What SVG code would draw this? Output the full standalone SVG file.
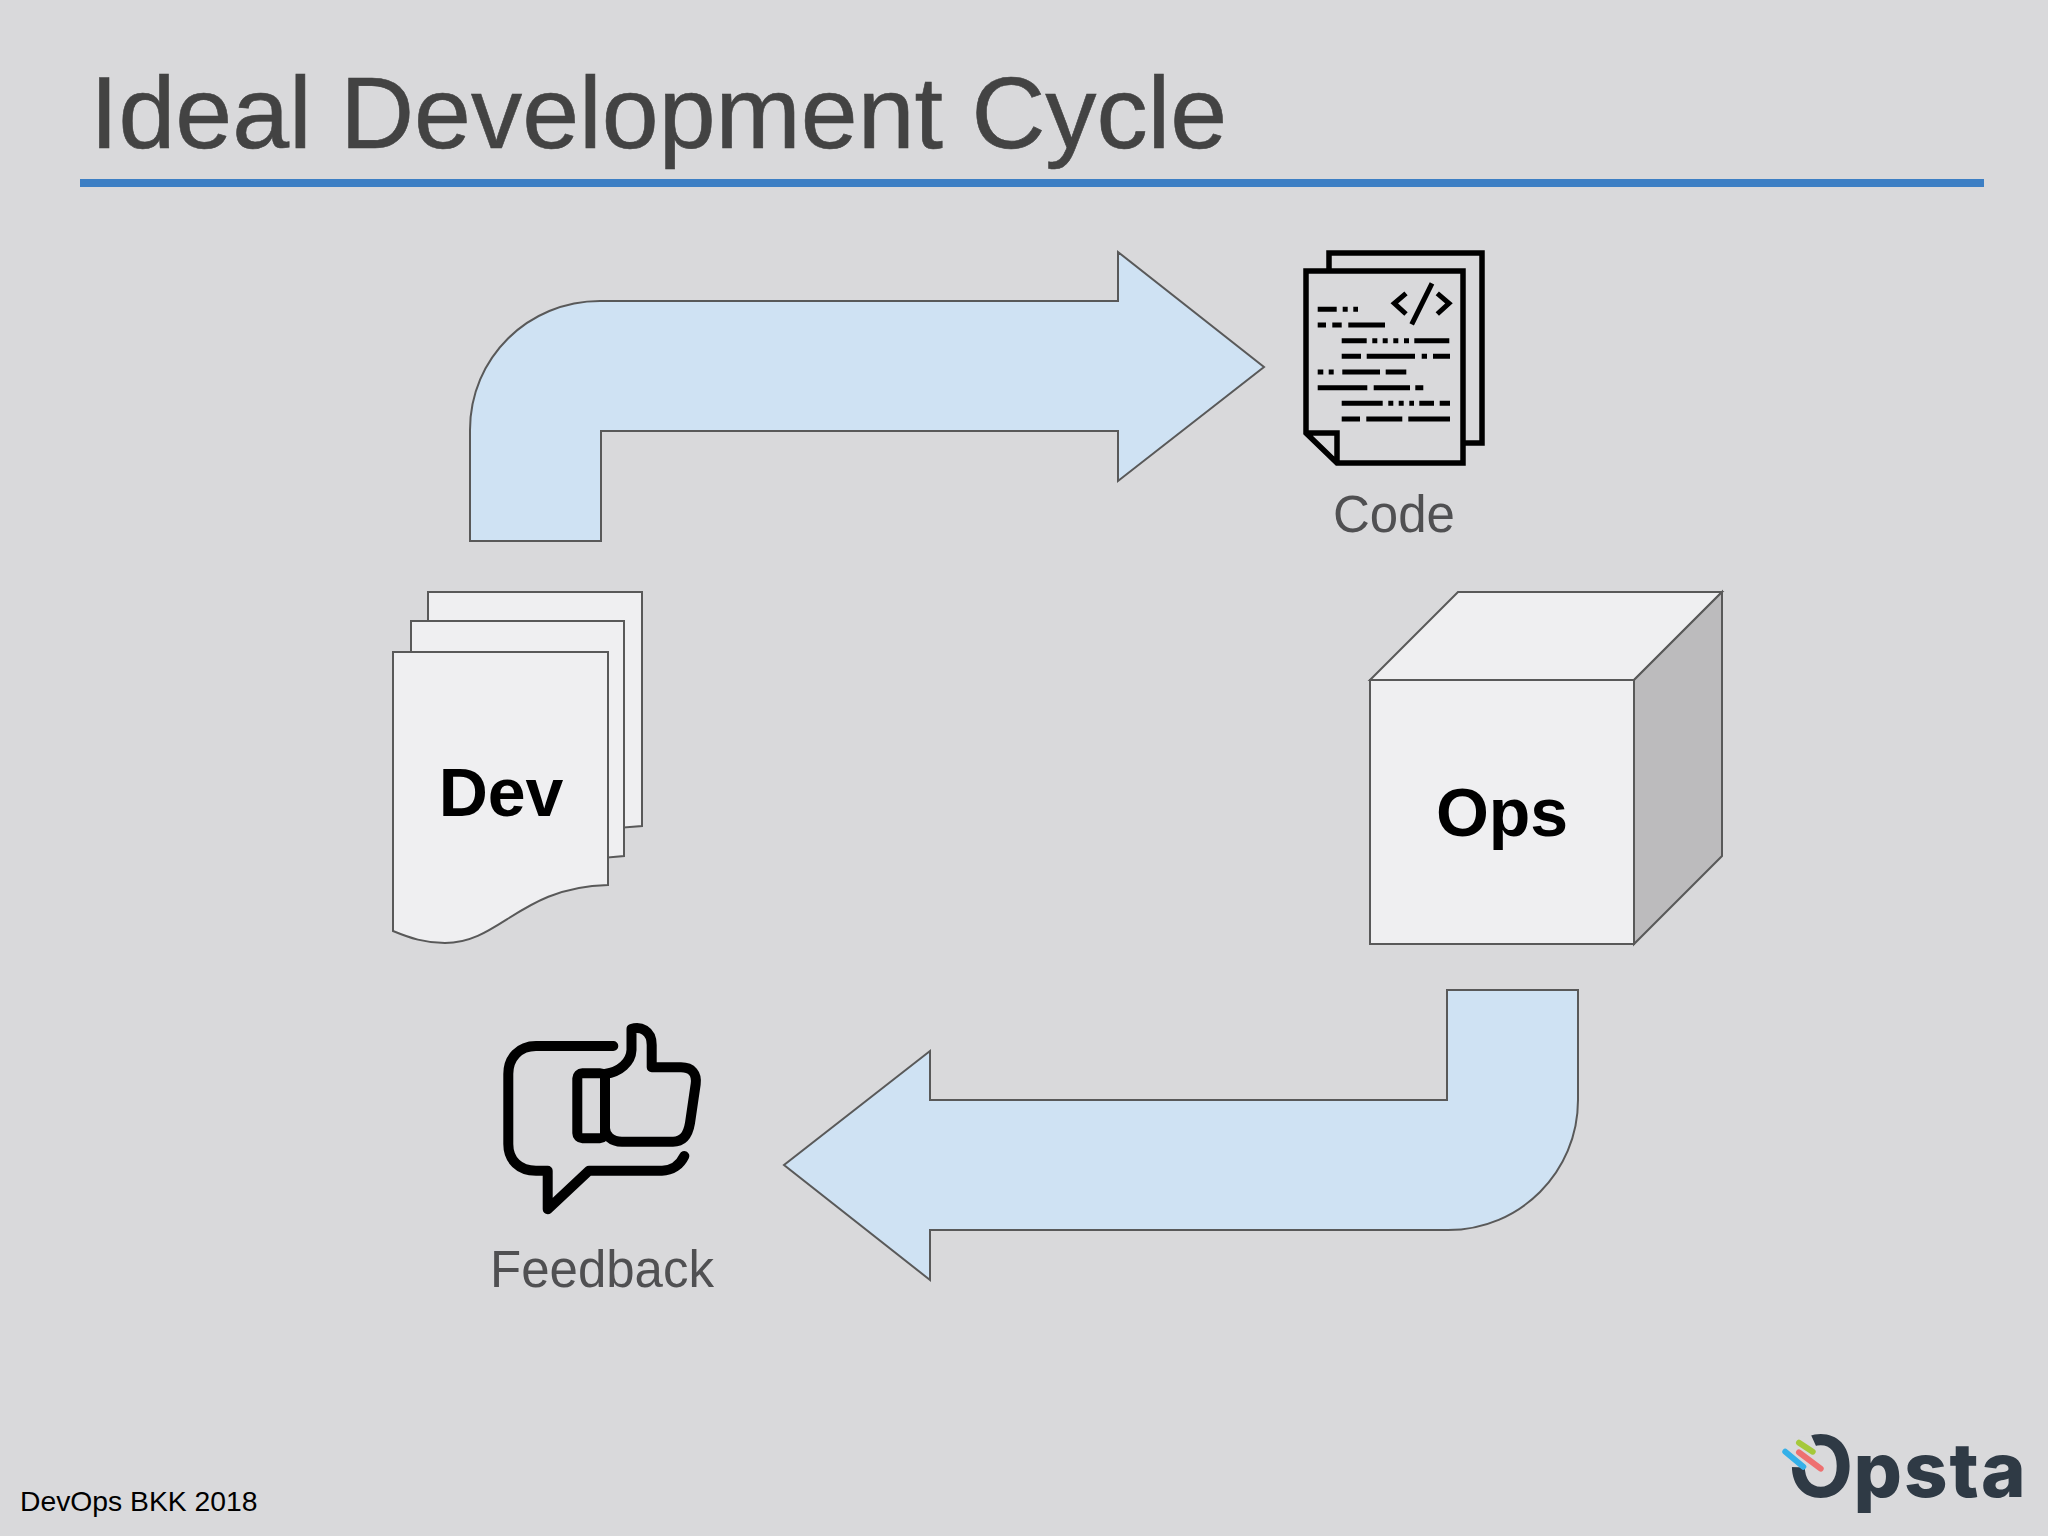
<svg xmlns="http://www.w3.org/2000/svg" width="2048" height="1536" viewBox="0 0 2048 1536">
<defs>
<style>
text{font-family:"Liberation Sans",Arial,sans-serif}
.title{font-size:102.300px;fill:#434343;stroke:#434343;stroke-width:.6}
.label{font-size:51px;fill:#505052;text-anchor:middle}
.big{font-size:68px;font-weight:700;fill:#000;text-anchor:middle}
.shape{fill:#efeff1;stroke:#595959;stroke-width:2}
.arrow{fill:#cfe2f3;stroke:#595959;stroke-width:2;stroke-linejoin:miter}
.icon{fill:none;stroke:#000;stroke-linejoin:miter}
.round{fill:none;stroke:#000;stroke-width:10;stroke-linecap:round;stroke-linejoin:round}
</style>
</defs>
<rect id="background" width="2048" height="1536" fill="#d9d9db"/>
<g id="title">
<text class="title" x="90" y="148">Ideal Development Cycle</text>
<rect x="80" y="179" width="1904" height="8" fill="#3d7fc4"/>
</g>
<g id="connectors">
<path class="arrow" d="M470 541V430C470 358 528 301 600 301H1118V252L1264 367L1118 481V431H601V541Z"/>
<path class="arrow" d="M1578 990V1100C1578 1172 1520 1230 1448 1230H930V1280L784 1165L930 1051V1100H1447V990Z"/>
</g>
<g id="code">
<path class="icon" stroke-width="5.500" d="M1329 270V253H1482V443H1464"/>
<path class="icon" stroke-width="5.500" d="M1306 271H1463V463H1337L1306 433ZM1306 433H1337V463"/>
<path class="icon" stroke-width="5" d="M1317.700 309.300H1336.700M1342.700 309.300H1347.700M1353.300 309.300H1358M1317.700 325H1326M1332.300 325H1341.700M1348.300 325H1385M1341.700 340.700H1366.700M1372.300 340.700H1377.300M1382.700 340.700H1387.700M1393.300 340.700H1398.300M1404 340.700H1409M1414.300 340.700H1449.300M1341.700 356.300H1361M1366.700 356.300H1415M1421.700 356.300H1427M1433 356.300H1450M1317.700 372H1323.300M1328.700 372H1333.700M1342.300 372H1380M1385.700 372H1406.300M1317.700 387.700H1367.300M1373.700 387.700H1410M1415.300 387.700H1423.300M1341.700 403.300H1382.700M1388.300 403.300H1393.300M1398.700 403.300H1403.700M1409.300 403.300H1414M1419.300 403.300H1434M1439.700 403.300H1450M1341.700 419H1360M1366.300 419H1402.300M1408.300 419H1450"/>
<path class="icon" stroke-width="5" d="M1406 293.300L1394.300 303.300L1406 314M1432 283.300L1411.700 324.300M1437.300 293.300L1449 303.300L1437.300 314"/>
<text class="label" x="1394" y="532">Code</text>
</g>
<g id="dev">
<path class="shape" d="M428 592H642V826L624 827.500V621H428Z"/>
<path class="shape" d="M411 621H624V856L608 857.500V652H411Z"/>
<path class="shape" d="M393 652H608V885C520 887 500 943 445 943C425 943 410 938 393 931Z"/>
<text class="big" x="501" y="816">Dev</text>
</g>
<g id="ops">
<path class="shape" d="M1370 680L1458 592H1722L1634 680Z"/>
<path class="shape" style="fill:#bcbbbd" d="M1634 680L1722 592V856L1634 944Z"/>
<rect class="shape" x="1370" y="680" width="264" height="264"/>
<text class="big" x="1502" y="836">Ops</text>
</g>
<g id="feedback">
<path class="round" d="M613.300 1046H536C519 1046 508.300 1058 508.300 1074V1144C508.300 1160 519 1170.700 536 1170.700H547.700V1209.300L589 1170.700H662C672 1170.700 680 1165 684.300 1156"/>
<rect class="round" x="577.300" y="1073.300" width="27.700" height="65" rx="5"/>
<path class="round" d="M605 1074C620 1072 631 1062 631.500 1050V1029C640 1026 651.700 1030 651.700 1045V1067.300H681C692 1067.300 697 1074 695.700 1084L690 1123C688 1135 683 1141.700 673 1141.700H622C611 1141.700 605 1135 605 1128"/>
<text class="label" x="602" y="1287">Feedback</text>
</g>
<g id="footer">
<text x="20" y="1511" font-size="28.300" fill="#000">DevOps BKK 2018</text>
</g>
<g id="logo">
<text x="1788" y="1497" font-size="85" font-weight="700" fill="#2f3a45" style="font-family:Inter,'Liberation Sans',sans-serif">O<tspan font-size="76" letter-spacing="2" font-weight="800">psta</tspan></text>
<path d="M1826 1468L1790 1467L1783 1440L1811 1435Z" fill="#d9d9db"/>
<path d="M1799 1442.700L1812.700 1451.700" stroke="#a5c93a" stroke-width="6" stroke-linecap="round"/>
<path d="M1799 1452.300L1820.700 1468.700" stroke="#ee7070" stroke-width="6" stroke-linecap="round"/>
<path d="M1785.300 1451.700L1803.300 1466.700" stroke="#35b0e8" stroke-width="6" stroke-linecap="round"/>
</g>
</svg>
